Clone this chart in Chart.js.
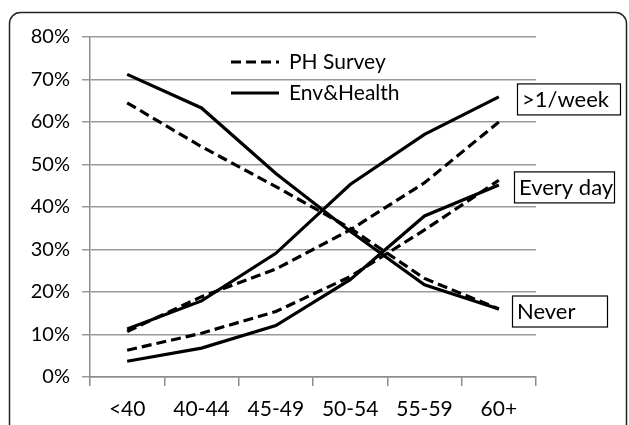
<!DOCTYPE html>
<html>
<head>
<meta charset="utf-8">
<script src="https://cdn.jsdelivr.net/npm/chart.js@4.4.1/dist/chart.umd.min.js"></script>
<style>
  html, body { margin: 0; padding: 0; background: #fff; }
  #wrap { width: 629px; height: 425px; }
</style>
</head>
<body>
<div id="wrap"><canvas id="chart" width="629" height="425"></canvas></div>
<script>
// age groups
const ageGroups = ['<40', '40-44', '45-49', '50-54', '55-59', '60+'];
const yTicks = [0, 10, 20, 30, 40, 50, 60, 70, 80];

// PH Survey (dashed)
const phWeekly = [10.7, 18.9, 25.4, 34.6, 45.7, 60.0];
const phDaily = [6.3, 10.3, 15.4, 23.6, 34.6, 46.3];
const phNever = [64.5, 54.2, 44.8, 35.0, 23.2, 16.0];

// Env&Health (solid)
const ehWeekly = [11.3, 17.9, 29.1, 45.3, 57.1, 65.9];
const ehDaily = [3.7, 6.8, 12.1, 22.9, 37.9, 45.2];
const ehNever = [71.2, 63.3, 47.9, 34.3, 21.7, 16.0];

const FONT = 'Lato, "Open Sans", sans-serif';

function line(label, data, dashed) {
    return {
        label: label,
        data: data,
        borderColor: '#000',
        borderWidth: 3.2,
        borderDash: dashed ? [10, 5] : [],
        pointRadius: 0,
        fill: false,
        tension: 0
    };
}

// outer rounded frame + boxed series labels + legend
const decor = {
    id: 'decor',
    beforeDraw(chart) {
        const ctx = chart.ctx;
        ctx.save();
        ctx.fillStyle = '#fff';
        ctx.fillRect(0, 0, chart.width, chart.height);
        ctx.strokeStyle = '#222';
        ctx.lineWidth = 1.5;
        ctx.beginPath();
        ctx.roundRect(9.5, 12.5, 617, 440, 11);
        ctx.stroke();
        ctx.restore();
    },
    afterDraw(chart) {
        const ctx = chart.ctx;
        const y = chart.scales.y;
        ctx.save();

        // legend
        const lx0 = 231, lx1 = 279;
        const rows = [['PH Survey', true, 62], ['Env&Health', false, 93]];
        ctx.font = '21px ' + FONT;
        ctx.textBaseline = 'middle';
        ctx.fillStyle = '#000';
        rows.forEach(([txt, dashed, ly]) => {
            ctx.strokeStyle = '#000';
            ctx.lineWidth = 3.2;
            ctx.setLineDash(dashed ? [10, 5] : []);
            ctx.beginPath();
            ctx.moveTo(lx0, ly);
            ctx.lineTo(lx1, ly);
            ctx.stroke();
            ctx.fillText(txt, lx1 + 10, ly);
        });
        ctx.setLineDash([]);

        // boxed labels next to the last point
        const last = ageGroups.length - 1;
        const boxes = [
            ['>1/week', ehWeekly[last], 517, 103],
            ['Every day', ehDaily[last], 514, 100],
            ['Never', ehNever[last], 512, 95]
        ];
        boxes.forEach(([txt, v, bx, bw]) => {
            const cy = y.getPixelForValue(v) + 2;
            const bh = 31;
            ctx.fillStyle = '#fff';
            ctx.fillRect(bx, cy - bh / 2, bw, bh);
            ctx.strokeStyle = '#000';
            ctx.lineWidth = 1.2;
            ctx.strokeRect(bx + 0.5, cy - bh / 2 + 0.5, bw, bh);
            ctx.fillStyle = '#000';
            ctx.font = '22px ' + FONT;
            ctx.textBaseline = 'middle';
            ctx.fillText(txt, bx + 5, cy + 1);
        });
        ctx.restore();
    }
};

new Chart(document.getElementById('chart'), {
    type: 'line',
    data: {
        labels: ageGroups,
        datasets: [
            line('PH Survey >1/week', phWeekly, true),
            line('PH Survey Every day', phDaily, true),
            line('PH Survey Never', phNever, true),
            line('Env&Health >1/week', ehWeekly, false),
            line('Env&Health Every day', ehDaily, false),
            line('Env&Health Never', ehNever, false)
        ]
    },
    options: {
        responsive: false,
        animation: false,
        layout: { padding: { top: 37, right: 93, left: 0, bottom: 0 } },
        plugins: {
            legend: { display: false },
            tooltip: { enabled: false }
        },
        scales: {
            x: {
                offset: true,
                grid: {
                    offset: true,
                    drawOnChartArea: false,
                    color: '#8c8c8c',
                    tickLength: 9,
                    lineWidth: 1.5
                },
                border: { color: '#8c8c8c', width: 1.5 },
                ticks: {
                    color: '#000',
                    padding: 11,
                    maxRotation: 0,
                    font: { family: FONT, size: 21 }
                },
                afterFit(scale) { scale.height = 48; }
            },
            y: {
                min: 0,
                max: 80,
                afterBuildTicks(scale) { scale.ticks = yTicks.map(v => ({ value: v })); },
                grid: {
                    color: '#9a9a9a',
                    lineWidth: 1.5,
                    tickLength: 8
                },
                border: { color: '#8c8c8c', width: 1.5 },
                ticks: {
                    color: '#000',
                    padding: 12,
                    font: { family: FONT, size: 20 },
                    callback: v => v + '%'
                },
                afterFit(scale) { scale.width = 90; }
            }
        }
    },
    plugins: [decor]
});
</script>
</body>
</html>
